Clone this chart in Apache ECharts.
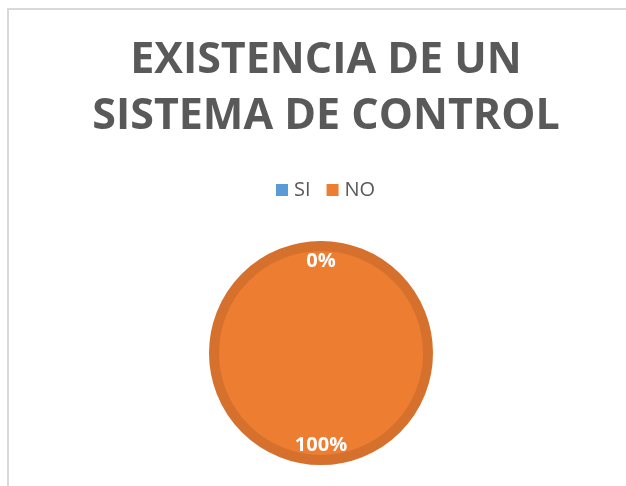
<!DOCTYPE html>
<html>
<head>
<meta charset="utf-8">
<script src="https://cdn.jsdelivr.net/npm/echarts@6/dist/echarts.min.js"></script>
<style>html,body{margin:0;padding:0;background:#fff}#c{width:626px;height:486px}</style>
</head>
<body>
<div id="c"></div>
<script>
var titleLines = ['EXISTENCIA DE UN', 'SISTEMA DE CONTROL'];
var categories = ['SI', 'NO'];
var values = [0, 100];
var colors = ['#5B9BD5', '#ED7D31'];

var chart = echarts.init(document.getElementById('c'));
var data = categories.map(function (n, i) { return { name: n, value: values[i], itemStyle: { color: colors[i] } }; });
chart.setOption({
  animation: false,
  graphic: [{ type: 'rect', shape: { x: 8, y: 9, width: 700, height: 600 }, style: { fill: 'none', stroke: '#d9d9d9', lineWidth: 2 }, silent: true }],
  title: {
    text: titleLines.join('\n'), left: 321, textAlign: 'center', top: 28,
    textStyle: { fontFamily: 'Open Sans', fontWeight: 'bold', fontSize: 43, lineHeight: 56, color: '#595959' }
  },
  legend: {
    data: categories, top: 175, left: 271, itemWidth: 12, itemHeight: 12, itemGap: 16, icon: 'rect',
    itemStyle: { borderWidth: 0 },
    textStyle: { fontFamily: 'Open Sans', fontSize: 20, color: '#595959', padding: [0, 0, 0, 1] }
  },
  series: [{
    type: 'pie', center: [321, 353], radius: 107, startAngle: 90, silent: true,
    label: { show: false }, labelLine: { show: false },
    itemStyle: { borderColor: '#D5712D', borderWidth: 10 },
    data: data
  }, {
    type: 'pie', center: [321, 353], radius: [66, 112], startAngle: 90, silent: true,
    itemStyle: { color: 'rgba(0,0,0,0)', borderWidth: 0 },
    label: { show: true, position: 'inside', formatter: '{d}%', color: '#fff', fontFamily: 'Open Sans', fontWeight: 'bold', fontSize: 20 },
    labelLine: { show: false },
    data: categories.map(function (n, i) { return { name: n, value: values[i] }; })
  }]
});
</script>
</body>
</html>
